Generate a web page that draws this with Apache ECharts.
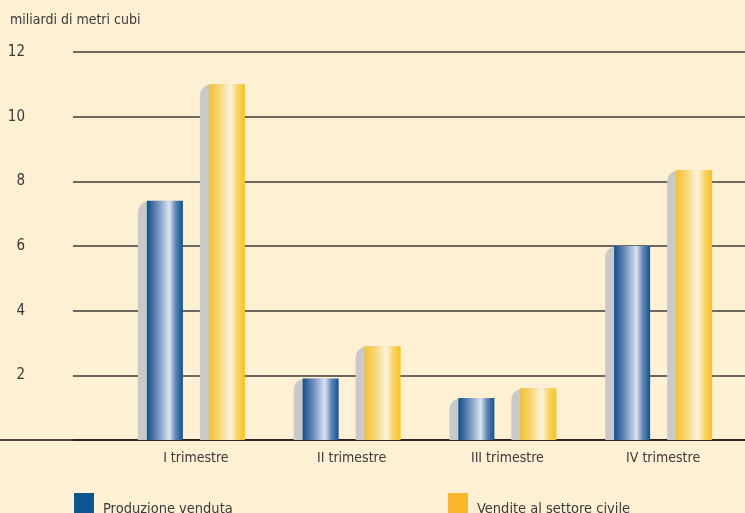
<!DOCTYPE html>
<html><head><meta charset="utf-8">
<script src="https://cdn.jsdelivr.net/npm/echarts@6/dist/echarts.min.js"></script>
<style>html,body{margin:0;padding:0;background:#FEF0D3}#c{width:745px;height:513px}</style>
</head><body><div id="c"></div>
<script>
const categories = ['I trimestre','II trimestre','III trimestre','IV trimestre'];
const produzione = [7.4, 1.9, 1.3, 6.0];
const vendite = [11.0, 2.9, 1.6, 8.35];
const yTicks = [0, 12, 2];
const seriesNames = ['Produzione venduta','Vendite al settore civile'];
const unitLabel = 'miliardi di metri cubi';

const FONT = '"Liberation Sans Narrow","DejaVu Sans Condensed",sans-serif';
const TXT = '#3a3a3a';
const grad = (stops) => ({type:'linear',x:0,y:0,x2:1,y2:0,colorStops:stops.map(s=>({offset:s[0],color:s[1]}))});
const blueGrad = grad([[0,'#0D4F8C'],[0.3,'#6F8EBB'],[0.62,'#DCE3F1'],[0.8,'#5E85B6'],[1,'#0D5590']]);
const yellowGrad = grad([[0,'#F6C22A'],[0.3,'#F8D777'],[0.6,'#FBF3E2'],[0.8,'#F8D35E'],[1,'#F6C321']]);
const shadowColor = '#C9C9C9';

const chart = echarts.init(document.getElementById('c'));
const gTop = 52, gBottom = 73;
const yBase = {type:'value', min:yTicks[0], max:yTicks[1], interval:yTicks[2]};
const legText = {fontFamily:FONT,fontSize:14,color:TXT,padding:[0,0,0,4],
  rich:{a:{fontFamily:FONT,fontSize:14.5,color:TXT,padding:[12,0,0,0]}}};
const legFmt = n => '{a|' + n + '}';
chart.setOption({
  backgroundColor:'#FEF0D3',
  animation:false,
  title:{text:unitLabel, left:5, top:8, textStyle:{fontFamily:FONT, fontSize:14, fontWeight:'normal', color:TXT}},
  legend:[
    {left:69, top:488, itemWidth:20, itemHeight:20, icon:'rect', formatter:legFmt, data:[{name:seriesNames[0], itemStyle:{color:'#0B5592'}}], textStyle:legText},
    {left:443, top:488, itemWidth:20, itemHeight:20, icon:'rect', formatter:legFmt, data:[{name:seriesNames[1], itemStyle:{color:'#FBB82B'}}], textStyle:legText}
  ],
  grid:[
    {left:73, right:0, top:gTop, bottom:gBottom},
    {left:0, right:0, top:gTop, bottom:gBottom},
    {left:109, right:13, top:gTop, bottom:gBottom},
    {left:118, right:4, top:gTop, bottom:gBottom}
  ],
  xAxis:[
    {gridIndex:0, type:'category', data:categories, show:false},
    {gridIndex:1, type:'category', data:categories, axisLine:{show:true, lineStyle:{color:'#111', width:1.5}}, axisTick:{show:false}, axisLabel:{show:false}},
    {gridIndex:2, type:'category', data:categories, show:false},
    {gridIndex:3, type:'category', data:categories, axisLine:{show:false}, axisTick:{show:false},
      axisLabel:{margin:11, fontFamily:FONT, fontSize:14, color:TXT}}
  ],
  yAxis:[
    Object.assign({gridIndex:0, axisLine:{show:false}, axisTick:{show:false},
      axisLabel:{margin:48, fontFamily:FONT, fontSize:15, color:TXT, formatter:v=>v===0?'':v},
      splitLine:{lineStyle:{color:'#3c3c3c', width:1.5}}}, yBase),
    Object.assign({gridIndex:1, show:false, splitLine:{show:false}}, yBase),
    Object.assign({gridIndex:2, show:false, splitLine:{show:false}}, yBase),
    Object.assign({gridIndex:3, show:false, splitLine:{show:false}}, yBase)
  ],
  series:[
    {type:'bar', name:'sh1', xAxisIndex:2, yAxisIndex:2, data:produzione, barWidth:36, barGap:'72.2%', itemStyle:{color:shadowColor, borderRadius:[12,0,0,0]}, silent:true},
    {type:'bar', name:'sh2', xAxisIndex:2, yAxisIndex:2, data:vendite, barWidth:36, barGap:'72.2%', itemStyle:{color:shadowColor, borderRadius:[12,0,0,0]}, silent:true},
    {type:'bar', name:seriesNames[0], xAxisIndex:3, yAxisIndex:3, data:produzione, barWidth:36, barGap:'72.2%', itemStyle:{color:blueGrad}},
    {type:'bar', name:seriesNames[1], xAxisIndex:3, yAxisIndex:3, data:vendite, barWidth:36, barGap:'72.2%', itemStyle:{color:yellowGrad}}
  ]
});
</script></body></html>
